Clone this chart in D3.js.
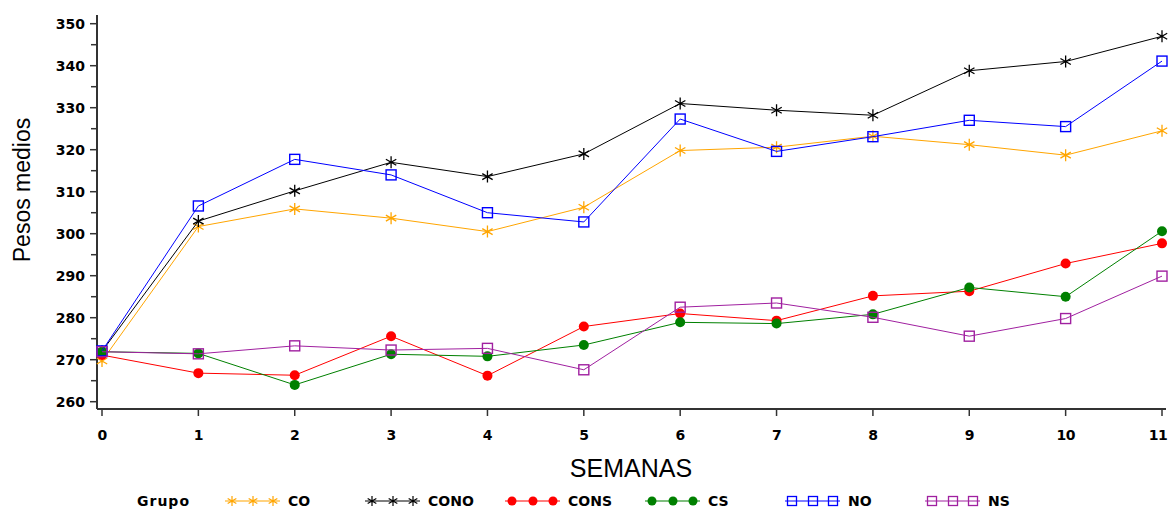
<!DOCTYPE html>
<html>
<head>
<meta charset="utf-8">
<script src="https://cdn.jsdelivr.net/npm/d3@7.9.0/dist/d3.min.js"></script>
<style>
  body { margin: 0; background: #fff; }
  svg { display: block; }
  .tick-label { font-family: 'DejaVu Sans', sans-serif; font-weight: bold; font-size: 14px; fill: #000; }
  .axis-title { font-family: 'Liberation Sans', Arial, sans-serif; fill: #000; }
</style>
</head>
<body>
<svg id="chart" width="1170" height="511"></svg>
<script>
const semanas = [0, 1, 2, 3, 4, 5, 6, 7, 8, 9, 10, 11];
const yTicks = [260, 270, 280, 290, 300, 310, 320, 330, 340, 350];
const grupos = ['CO', 'CONO', 'CONS', 'CS', 'NO', 'NS'];

const co   = [269.7, 301.7, 305.9, 303.7, 300.5, 306.3, 319.8, 320.6, 323.2, 321.2, 318.7, 324.5];
const cono = [272.0, 303.0, 310.2, 317.0, 313.6, 319.0, 331.0, 329.4, 328.2, 338.8, 341.0, 347.0];
const cons = [271.1, 266.8, 266.3, 275.6, 266.2, 277.9, 281.0, 279.3, 285.2, 286.3, 292.9, 297.7];
const cs   = [271.9, 271.5, 264.0, 271.3, 270.8, 273.5, 278.9, 278.6, 280.8, 287.2, 285.0, 300.6];
const no   = [272.1, 306.6, 317.7, 314.0, 305.0, 302.8, 327.3, 319.6, 323.1, 327.0, 325.5, 341.1];
const ns   = [271.9, 271.4, 273.3, 272.3, 272.7, 267.6, 282.5, 283.5, 280.1, 275.6, 279.8, 289.9];

const valores = { CO: co, CONO: cono, CONS: cons, CS: cs, NO: no, NS: ns };
const colores = { CO: '#ffa500', CONO: '#000000', CONS: '#ff0000', CS: '#008000', NO: '#0000ff', NS: '#a020a0' };
const simbolos = { CO: 'star', CONO: 'star', CONS: 'dot', CS: 'dot', NO: 'square', NS: 'square' };

const svg = d3.select('#chart');

const x = d3.scaleLinear().domain([0, 11]).range([102, 1162]);
const y = d3.scaleLinear().domain([260, 350]).range([401.7, 23.7]);

const axisX = 97, axisY = 409;

// axes lines
svg.append('line').attr('x1', axisX).attr('x2', axisX).attr('y1', 15).attr('y2', axisY)
  .attr('stroke', '#333').attr('stroke-width', 2);
svg.append('line').attr('x1', axisX).attr('x2', 1166).attr('y1', axisY).attr('y2', axisY)
  .attr('stroke', '#333').attr('stroke-width', 2);

// y ticks (major + minor)
const yMinor = d3.range(265, 350, 10);
svg.selectAll('.ymaj').data(yTicks).enter().append('line')
  .attr('x1', axisX - 7).attr('x2', axisX).attr('y1', d => y(d)).attr('y2', d => y(d))
  .attr('stroke', '#333').attr('stroke-width', 1.5);
svg.selectAll('.ymin').data(yMinor).enter().append('line')
  .attr('x1', axisX - 6).attr('x2', axisX).attr('y1', d => y(d)).attr('y2', d => y(d))
  .attr('stroke', '#333').attr('stroke-width', 1.5);
svg.selectAll('.ylab').data(yTicks).enter().append('text')
  .attr('class', 'tick-label')
  .attr('x', 85).attr('y', d => y(d)).attr('dy', '0.36em')
  .attr('text-anchor', 'end').text(d => d);

// x ticks
svg.selectAll('.xt').data(semanas).enter().append('line')
  .attr('x1', d => x(d)).attr('x2', d => x(d)).attr('y1', axisY).attr('y2', axisY + 7)
  .attr('stroke', '#333').attr('stroke-width', 1.5);
svg.selectAll('.xlab').data(semanas).enter().append('text')
  .attr('class', 'tick-label')
  .attr('x', d => Math.min(x(d), 1158)).attr('y', 440)
  .attr('text-anchor', 'middle').style('letter-spacing', '-0.5px').text(d => d);

// titles
svg.append('text').attr('class', 'axis-title')
  .attr('x', 631).attr('y', 477).attr('text-anchor', 'middle')
  .attr('font-size', 25).text('SEMANAS');
svg.append('text').attr('class', 'axis-title')
  .attr('transform', 'translate(30,190) rotate(-90)').attr('text-anchor', 'middle')
  .attr('font-size', 23).text('Pesos medios');

function starPath(r) {
  let p = '';
  [90, 30, -30].forEach(a => {
    const dx = r * Math.cos(a * Math.PI / 180), dy = r * Math.sin(a * Math.PI / 180);
    p += `M${-dx},${-dy}L${dx},${dy}`;
  });
  return p;
}

function drawMarker(g, tipo, color) {
  if (tipo === 'star') {
    g.append('path').attr('d', starPath(6)).attr('stroke', color).attr('stroke-width', 1.3).attr('fill', 'none');
  } else if (tipo === 'dot') {
    g.append('circle').attr('r', 5).attr('fill', color);
  } else {
    g.append('rect').attr('x', -5).attr('y', -5).attr('width', 10).attr('height', 10)
      .attr('fill', 'none').attr('stroke', color).attr('stroke-width', 1.4);
  }
}

const line = d3.line().x((d, i) => x(semanas[i])).y(d => y(d));

grupos.forEach(gname => {
  const vals = valores[gname];
  svg.append('path').attr('d', line(vals)).attr('fill', 'none')
    .attr('stroke', colores[gname]).attr('stroke-width', 1);
  vals.forEach((v, i) => {
    const g = svg.append('g').attr('transform', `translate(${x(semanas[i])},${y(v)})`);
    drawMarker(g, simbolos[gname], colores[gname]);
  });
});

// legend
const legY = 501;
svg.append('text').attr('class', 'tick-label').attr('x', 137).attr('y', legY).attr('dy', '0.36em')
  .attr('font-size', 13).style('letter-spacing', '1px').text('Grupo');
grupos.forEach((gname, k) => {
  const x0 = 225 + 140 * k;
  svg.append('line').attr('x1', x0).attr('x2', x0 + 55).attr('y1', legY).attr('y2', legY)
    .attr('stroke', colores[gname]).attr('stroke-width', 1.2);
  [7, 28, 48].forEach(off => {
    const g = svg.append('g').attr('transform', `translate(${x0 + off},${legY})`);
    if (simbolos[gname] === 'dot') {
      g.append('circle').attr('r', 4.5).attr('fill', colores[gname]);
    } else if (simbolos[gname] === 'square') {
      g.append('rect').attr('x', -4.5).attr('y', -4.5).attr('width', 9).attr('height', 9)
        .attr('fill', 'none').attr('stroke', colores[gname]).attr('stroke-width', 1.3);
    } else {
      g.append('path').attr('d', starPath(5)).attr('stroke', colores[gname]).attr('stroke-width', 1.2);
    }
  });
  svg.append('text').attr('class', 'tick-label').attr('x', x0 + 63).attr('y', legY).attr('dy', '0.36em')
    .attr('font-size', 13).text(gname);
});
</script>
</body>
</html>
